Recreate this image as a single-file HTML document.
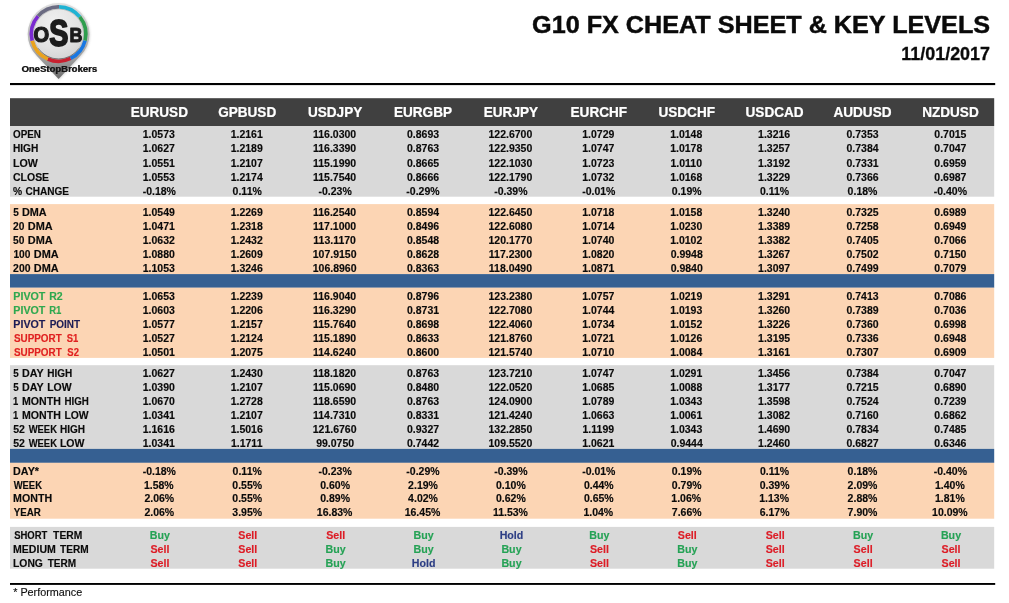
<!DOCTYPE html>
<html lang="en"><head><meta charset="utf-8"><title>G10 FX Cheat Sheet &amp; Key Levels</title>
<style>
html,body{margin:0;padding:0;background:#fff;}
body{width:1009px;height:603px;overflow:hidden;}
svg{display:block;font-family:"Liberation Sans",Arial,Helvetica,sans-serif;font-weight:bold;}
.n{font-size:11px;fill:#0a0a0a;stroke:#0a0a0a;stroke-width:0.15px;text-anchor:middle;}
.l{font-size:11px;fill:#0a0a0a;stroke:#0a0a0a;stroke-width:0.15px;}
.h{font-size:14px;fill:#fff;stroke:#fff;stroke-width:0.25px;text-anchor:middle;}
</style></head><body>
<svg width="1009" height="603" viewBox="0 0 1009 603">
<defs>
<linearGradient id="pg" x1="0" y1="0" x2="0" y2="1"><stop offset="0" stop-color="#e0e0e0"/><stop offset="0.5" stop-color="#b4b4b4"/><stop offset="0.8" stop-color="#969696"/><stop offset="1" stop-color="#6a6a6a"/></linearGradient>
<radialGradient id="dg" cx="0.42" cy="0.3" r="0.75"><stop offset="0" stop-color="#f0f0f0"/><stop offset="0.6" stop-color="#e2e2e2"/><stop offset="1" stop-color="#cfcfcf"/></radialGradient>
<filter id="sh" x="-10%" y="-30%" width="120%" height="180%"><feGaussianBlur stdDeviation="0.7"/></filter>
<filter id="sh2" x="-20%" y="-20%" width="140%" height="140%"><feGaussianBlur stdDeviation="1.2"/></filter>
</defs>
<g id="logo">
<path d="M80.45,55.85 A30.9,30.9 0 1 0 36.75,55.85 L58.6,79.0 Z" fill="#bbb" opacity="0.55" filter="url(#sh2)" transform="translate(0.6,0.8)"/>
<path d="M80.45,55.85 A30.9,30.9 0 1 0 36.75,55.85 L58.6,79.0 Z" fill="url(#pg)"/>
<circle cx="58.6" cy="34.0" r="27.7" fill="url(#dg)"/>
<path d="M59.07,6.80 A27.2,27.2 0 0 1 79.74,16.88" fill="none" stroke="#1fb3d3" stroke-width="3.7"/>
<path d="M79.74,16.88 A27.2,27.2 0 0 1 84.99,40.58" fill="none" stroke="#2f9e4e" stroke-width="3.7"/>
<path d="M84.99,40.58 A27.2,27.2 0 0 1 70.52,58.45" fill="none" stroke="#1877e2" stroke-width="3.7"/>
<path d="M70.52,58.45 A27.2,27.2 0 0 1 47.75,58.94" fill="none" stroke="#c8202f" stroke-width="3.7"/>
<path d="M47.75,58.94 A27.2,27.2 0 0 1 32.21,40.58" fill="none" stroke="#eaa21c" stroke-width="3.7"/>
<path d="M32.21,40.58 A27.2,27.2 0 0 1 38.07,16.16" fill="none" stroke="#7a2ad0" stroke-width="3.7"/>
<path d="M38.07,16.16 A27.2,27.2 0 0 1 59.07,6.80" fill="none" stroke="#6b6b82" stroke-width="3.7"/>
<circle cx="58.6" cy="34.0" r="24.95" fill="none" stroke="#9a9a9a" stroke-width="0.8" opacity="0.55"/>
<path d="M79.08,48.34 A25.00,25.00 0 0 1 38.12,48.34" fill="none" stroke="#222" stroke-width="0.9" opacity="0.5"/>
<g fill="#1c1c1c" stroke="#1c1c1c" stroke-linejoin="round">
<text transform="translate(33.6,42.1) scale(0.95,1)" font-size="21.2px" stroke-width="1.2">O</text>
<text transform="translate(49.3,45.9) scale(0.77,1)" font-size="37.2px" stroke-width="2.0">S</text>
<text transform="translate(69.5,42.1) scale(0.90,1)" font-size="19.9px" stroke-width="1.0">B</text>
</g>
<text x="21.9" y="72.45" font-size="9.3px" fill="#333" opacity="0.7" filter="url(#sh)" textLength="75.6" lengthAdjust="spacingAndGlyphs">OneStopBrokers</text>
<text x="21.4" y="71.8" font-size="9.3px" fill="#161616" stroke="#161616" stroke-width="0.12" textLength="75.6" lengthAdjust="spacingAndGlyphs">OneStopBrokers</text>
</g>
<text x="990.1" y="32.7" text-anchor="end" font-size="24px" fill="#0a0a0a" stroke="#0a0a0a" stroke-width="0.45" textLength="458" lengthAdjust="spacingAndGlyphs">G10 FX CHEAT SHEET &amp; KEY LEVELS</text>
<text transform="translate(990.0,59.5) scale(0.985,1)" text-anchor="end" font-size="18.2px" fill="#0a0a0a" stroke="#0a0a0a" stroke-width="0.3">11/01/2017</text>
<rect x="10.0" y="83" width="985.2" height="2.1" fill="#000"/>
<rect x="10.0" y="583" width="985.2" height="1.9" fill="#000"/>
<rect x="10.0" y="98.2" width="984.2" height="27.8" fill="#404040"/>
<rect x="10.0" y="126.0" width="984.2" height="70.7" fill="#d9d9d9"/>
<rect x="10.0" y="204.1" width="984.2" height="70.1" fill="#fcd5b4"/>
<rect x="10.0" y="274.1" width="984.2" height="13.7" fill="#366092"/>
<rect x="10.0" y="287.7" width="984.2" height="70.2" fill="#fcd5b4"/>
<rect x="10.0" y="365.2" width="984.2" height="83.8" fill="#d9d9d9"/>
<rect x="10.0" y="448.9" width="984.2" height="14.0" fill="#366092"/>
<rect x="10.0" y="462.8" width="984.2" height="55.9" fill="#fcd5b4"/>
<rect x="10.0" y="526.9" width="984.2" height="41.8" fill="#d9d9d9"/>
<text class="h" transform="translate(159.3,117) scale(0.97,1)">EURUSD</text>
<text class="h" transform="translate(247.2,117) scale(0.97,1)">GPBUSD</text>
<text class="h" transform="translate(335.1,117) scale(0.97,1)">USDJPY</text>
<text class="h" transform="translate(423.0,117) scale(0.97,1)">EURGBP</text>
<text class="h" transform="translate(510.9,117) scale(0.97,1)">EURJPY</text>
<text class="h" transform="translate(598.8,117) scale(0.97,1)">EURCHF</text>
<text class="h" transform="translate(686.7,117) scale(0.97,1)">USDCHF</text>
<text class="h" transform="translate(774.6,117) scale(0.97,1)">USDCAD</text>
<text class="h" transform="translate(862.5,117) scale(0.97,1)">AUDUSD</text>
<text class="h" transform="translate(950.4,117) scale(0.97,1)">NZDUSD</text>
<text class="l" y="138.0"><tspan x="13.04" textLength="27.94" lengthAdjust="spacingAndGlyphs">OPEN</tspan></text>
<text class="n" transform="translate(158.8,138.0) scale(0.955,1)">1.0573</text>
<text class="n" transform="translate(246.7,138.0) scale(0.955,1)">1.2161</text>
<text class="n" transform="translate(334.6,138.0) scale(0.955,1)">116.0300</text>
<text class="n" transform="translate(423.0,138.0) scale(0.955,1)">0.8693</text>
<text class="n" transform="translate(510.4,138.0) scale(0.955,1)">122.6700</text>
<text class="n" transform="translate(598.3,138.0) scale(0.955,1)">1.0729</text>
<text class="n" transform="translate(686.2,138.0) scale(0.955,1)">1.0148</text>
<text class="n" transform="translate(774.1,138.0) scale(0.955,1)">1.3216</text>
<text class="n" transform="translate(862.5,138.0) scale(0.955,1)">0.7353</text>
<text class="n" transform="translate(950.4,138.0) scale(0.955,1)">0.7015</text>
<text class="l" y="152.0"><tspan x="12.95" textLength="25.44" lengthAdjust="spacingAndGlyphs">HIGH</tspan></text>
<text class="n" transform="translate(158.8,152.0) scale(0.955,1)">1.0627</text>
<text class="n" transform="translate(246.7,152.0) scale(0.955,1)">1.2189</text>
<text class="n" transform="translate(334.6,152.0) scale(0.955,1)">116.3390</text>
<text class="n" transform="translate(423.0,152.0) scale(0.955,1)">0.8763</text>
<text class="n" transform="translate(510.4,152.0) scale(0.955,1)">122.9350</text>
<text class="n" transform="translate(598.3,152.0) scale(0.955,1)">1.0747</text>
<text class="n" transform="translate(686.2,152.0) scale(0.955,1)">1.0178</text>
<text class="n" transform="translate(774.1,152.0) scale(0.955,1)">1.3257</text>
<text class="n" transform="translate(862.5,152.0) scale(0.955,1)">0.7384</text>
<text class="n" transform="translate(950.4,152.0) scale(0.955,1)">0.7047</text>
<text class="l" y="166.7"><tspan x="12.92" textLength="24.86" lengthAdjust="spacingAndGlyphs">LOW</tspan></text>
<text class="n" transform="translate(158.8,166.7) scale(0.955,1)">1.0551</text>
<text class="n" transform="translate(246.7,166.7) scale(0.955,1)">1.2107</text>
<text class="n" transform="translate(334.6,166.7) scale(0.955,1)">115.1990</text>
<text class="n" transform="translate(423.0,166.7) scale(0.955,1)">0.8665</text>
<text class="n" transform="translate(510.4,166.7) scale(0.955,1)">122.1030</text>
<text class="n" transform="translate(598.3,166.7) scale(0.955,1)">1.0723</text>
<text class="n" transform="translate(686.2,166.7) scale(0.955,1)">1.0110</text>
<text class="n" transform="translate(774.1,166.7) scale(0.955,1)">1.3192</text>
<text class="n" transform="translate(862.5,166.7) scale(0.955,1)">0.7331</text>
<text class="n" transform="translate(950.4,166.7) scale(0.955,1)">0.6959</text>
<text class="l" y="180.7"><tspan x="13.02" textLength="36.10" lengthAdjust="spacingAndGlyphs">CLOSE</tspan></text>
<text class="n" transform="translate(158.8,180.7) scale(0.955,1)">1.0553</text>
<text class="n" transform="translate(246.7,180.7) scale(0.955,1)">1.2174</text>
<text class="n" transform="translate(334.6,180.7) scale(0.955,1)">115.7540</text>
<text class="n" transform="translate(423.0,180.7) scale(0.955,1)">0.8666</text>
<text class="n" transform="translate(510.4,180.7) scale(0.955,1)">122.1790</text>
<text class="n" transform="translate(598.3,180.7) scale(0.955,1)">1.0732</text>
<text class="n" transform="translate(686.2,180.7) scale(0.955,1)">1.0168</text>
<text class="n" transform="translate(774.1,180.7) scale(0.955,1)">1.3229</text>
<text class="n" transform="translate(862.5,180.7) scale(0.955,1)">0.7366</text>
<text class="n" transform="translate(950.4,180.7) scale(0.955,1)">0.6987</text>
<text class="l" y="194.7"><tspan x="13.01" textLength="9.15" lengthAdjust="spacingAndGlyphs">%</tspan> <tspan x="25.43" textLength="43.57" lengthAdjust="spacingAndGlyphs">CHANGE</tspan></text>
<text class="n" transform="translate(159.3,194.7) scale(0.955,1)">-0.18%</text>
<text class="n" transform="translate(247.2,194.7) scale(0.955,1)">0.11%</text>
<text class="n" transform="translate(335.1,194.7) scale(0.955,1)">-0.23%</text>
<text class="n" transform="translate(423.0,194.7) scale(0.955,1)">-0.29%</text>
<text class="n" transform="translate(510.9,194.7) scale(0.955,1)">-0.39%</text>
<text class="n" transform="translate(598.8,194.7) scale(0.955,1)">-0.01%</text>
<text class="n" transform="translate(686.7,194.7) scale(0.955,1)">0.19%</text>
<text class="n" transform="translate(774.6,194.7) scale(0.955,1)">0.11%</text>
<text class="n" transform="translate(862.5,194.7) scale(0.955,1)">0.18%</text>
<text class="n" transform="translate(950.4,194.7) scale(0.955,1)">-0.40%</text>
<text class="l" y="215.8"><tspan x="13.13" textLength="5.57" lengthAdjust="spacingAndGlyphs">5</tspan> <tspan x="21.91" textLength="24.73" lengthAdjust="spacingAndGlyphs">DMA</tspan></text>
<text class="n" transform="translate(158.8,215.8) scale(0.955,1)">1.0549</text>
<text class="n" transform="translate(246.7,215.8) scale(0.955,1)">1.2269</text>
<text class="n" transform="translate(334.6,215.8) scale(0.955,1)">116.2540</text>
<text class="n" transform="translate(423.0,215.8) scale(0.955,1)">0.8594</text>
<text class="n" transform="translate(510.4,215.8) scale(0.955,1)">122.6450</text>
<text class="n" transform="translate(598.3,215.8) scale(0.955,1)">1.0718</text>
<text class="n" transform="translate(686.2,215.8) scale(0.955,1)">1.0158</text>
<text class="n" transform="translate(774.1,215.8) scale(0.955,1)">1.3240</text>
<text class="n" transform="translate(862.5,215.8) scale(0.955,1)">0.7325</text>
<text class="n" transform="translate(950.4,215.8) scale(0.955,1)">0.6989</text>
<text class="l" y="229.7"><tspan x="13.12" textLength="11.37" lengthAdjust="spacingAndGlyphs">20</tspan> <tspan x="27.81" textLength="24.84" lengthAdjust="spacingAndGlyphs">DMA</tspan></text>
<text class="n" transform="translate(158.8,229.7) scale(0.955,1)">1.0471</text>
<text class="n" transform="translate(246.7,229.7) scale(0.955,1)">1.2318</text>
<text class="n" transform="translate(334.6,229.7) scale(0.955,1)">117.1000</text>
<text class="n" transform="translate(423.0,229.7) scale(0.955,1)">0.8496</text>
<text class="n" transform="translate(510.4,229.7) scale(0.955,1)">122.6080</text>
<text class="n" transform="translate(598.3,229.7) scale(0.955,1)">1.0714</text>
<text class="n" transform="translate(686.2,229.7) scale(0.955,1)">1.0230</text>
<text class="n" transform="translate(774.1,229.7) scale(0.955,1)">1.3389</text>
<text class="n" transform="translate(862.5,229.7) scale(0.955,1)">0.7258</text>
<text class="n" transform="translate(950.4,229.7) scale(0.955,1)">0.6949</text>
<text class="l" y="243.6"><tspan x="13.12" textLength="11.37" lengthAdjust="spacingAndGlyphs">50</tspan> <tspan x="27.81" textLength="24.84" lengthAdjust="spacingAndGlyphs">DMA</tspan></text>
<text class="n" transform="translate(158.8,243.6) scale(0.955,1)">1.0632</text>
<text class="n" transform="translate(246.7,243.6) scale(0.955,1)">1.2432</text>
<text class="n" transform="translate(334.6,243.6) scale(0.955,1)">113.1170</text>
<text class="n" transform="translate(423.0,243.6) scale(0.955,1)">0.8548</text>
<text class="n" transform="translate(510.4,243.6) scale(0.955,1)">120.1770</text>
<text class="n" transform="translate(598.3,243.6) scale(0.955,1)">1.0740</text>
<text class="n" transform="translate(686.2,243.6) scale(0.955,1)">1.0102</text>
<text class="n" transform="translate(774.1,243.6) scale(0.955,1)">1.3382</text>
<text class="n" transform="translate(862.5,243.6) scale(0.955,1)">0.7405</text>
<text class="n" transform="translate(950.4,243.6) scale(0.955,1)">0.7066</text>
<text class="l" y="257.6"><tspan x="13.44" textLength="17.05" lengthAdjust="spacingAndGlyphs">100</tspan> <tspan x="33.81" textLength="24.84" lengthAdjust="spacingAndGlyphs">DMA</tspan></text>
<text class="n" transform="translate(158.8,257.6) scale(0.955,1)">1.0880</text>
<text class="n" transform="translate(246.7,257.6) scale(0.955,1)">1.2609</text>
<text class="n" transform="translate(334.6,257.6) scale(0.955,1)">107.9150</text>
<text class="n" transform="translate(423.0,257.6) scale(0.955,1)">0.8628</text>
<text class="n" transform="translate(510.4,257.6) scale(0.955,1)">117.2300</text>
<text class="n" transform="translate(598.3,257.6) scale(0.955,1)">1.0820</text>
<text class="n" transform="translate(686.7,257.6) scale(0.955,1)">0.9948</text>
<text class="n" transform="translate(774.1,257.6) scale(0.955,1)">1.3267</text>
<text class="n" transform="translate(862.5,257.6) scale(0.955,1)">0.7502</text>
<text class="n" transform="translate(950.4,257.6) scale(0.955,1)">0.7150</text>
<text class="l" y="271.5"><tspan x="13.12" textLength="17.38" lengthAdjust="spacingAndGlyphs">200</tspan> <tspan x="33.81" textLength="24.84" lengthAdjust="spacingAndGlyphs">DMA</tspan></text>
<text class="n" transform="translate(158.8,271.5) scale(0.955,1)">1.1053</text>
<text class="n" transform="translate(246.7,271.5) scale(0.955,1)">1.3246</text>
<text class="n" transform="translate(334.6,271.5) scale(0.955,1)">106.8960</text>
<text class="n" transform="translate(423.0,271.5) scale(0.955,1)">0.8363</text>
<text class="n" transform="translate(510.4,271.5) scale(0.955,1)">118.0490</text>
<text class="n" transform="translate(598.3,271.5) scale(0.955,1)">1.0871</text>
<text class="n" transform="translate(686.7,271.5) scale(0.955,1)">0.9840</text>
<text class="n" transform="translate(774.1,271.5) scale(0.955,1)">1.3097</text>
<text class="n" transform="translate(862.5,271.5) scale(0.955,1)">0.7499</text>
<text class="n" transform="translate(950.4,271.5) scale(0.955,1)">0.7079</text>
<text class="l" style="fill:#2fa84f;stroke:#2fa84f" y="299.7"><tspan x="13.32" textLength="32.00" lengthAdjust="spacingAndGlyphs">PIVOT</tspan> <tspan x="49.13" textLength="13.47" lengthAdjust="spacingAndGlyphs">R2</tspan></text>
<text class="n" transform="translate(158.8,299.7) scale(0.955,1)">1.0653</text>
<text class="n" transform="translate(246.7,299.7) scale(0.955,1)">1.2239</text>
<text class="n" transform="translate(334.6,299.7) scale(0.955,1)">116.9040</text>
<text class="n" transform="translate(423.0,299.7) scale(0.955,1)">0.8796</text>
<text class="n" transform="translate(510.4,299.7) scale(0.955,1)">123.2380</text>
<text class="n" transform="translate(598.3,299.7) scale(0.955,1)">1.0757</text>
<text class="n" transform="translate(686.2,299.7) scale(0.955,1)">1.0219</text>
<text class="n" transform="translate(774.1,299.7) scale(0.955,1)">1.3291</text>
<text class="n" transform="translate(862.5,299.7) scale(0.955,1)">0.7413</text>
<text class="n" transform="translate(950.4,299.7) scale(0.955,1)">0.7086</text>
<text class="l" style="fill:#2fa84f;stroke:#2fa84f" y="313.7"><tspan x="13.32" textLength="32.00" lengthAdjust="spacingAndGlyphs">PIVOT</tspan> <tspan x="49.19" textLength="12.20" lengthAdjust="spacingAndGlyphs">R1</tspan></text>
<text class="n" transform="translate(158.8,313.7) scale(0.955,1)">1.0603</text>
<text class="n" transform="translate(246.7,313.7) scale(0.955,1)">1.2206</text>
<text class="n" transform="translate(334.6,313.7) scale(0.955,1)">116.3290</text>
<text class="n" transform="translate(423.0,313.7) scale(0.955,1)">0.8731</text>
<text class="n" transform="translate(510.4,313.7) scale(0.955,1)">122.7080</text>
<text class="n" transform="translate(598.3,313.7) scale(0.955,1)">1.0744</text>
<text class="n" transform="translate(686.2,313.7) scale(0.955,1)">1.0193</text>
<text class="n" transform="translate(774.1,313.7) scale(0.955,1)">1.3260</text>
<text class="n" transform="translate(862.5,313.7) scale(0.955,1)">0.7389</text>
<text class="n" transform="translate(950.4,313.7) scale(0.955,1)">0.7036</text>
<text class="l" style="fill:#1c1c55;stroke:#1c1c55" y="327.7"><tspan x="13.32" textLength="32.00" lengthAdjust="spacingAndGlyphs">PIVOT</tspan> <tspan x="49.67" textLength="30.45" lengthAdjust="spacingAndGlyphs">POINT</tspan></text>
<text class="n" transform="translate(158.8,327.7) scale(0.955,1)">1.0577</text>
<text class="n" transform="translate(246.7,327.7) scale(0.955,1)">1.2157</text>
<text class="n" transform="translate(334.6,327.7) scale(0.955,1)">115.7640</text>
<text class="n" transform="translate(423.0,327.7) scale(0.955,1)">0.8698</text>
<text class="n" transform="translate(510.4,327.7) scale(0.955,1)">122.4060</text>
<text class="n" transform="translate(598.3,327.7) scale(0.955,1)">1.0734</text>
<text class="n" transform="translate(686.2,327.7) scale(0.955,1)">1.0152</text>
<text class="n" transform="translate(774.1,327.7) scale(0.955,1)">1.3226</text>
<text class="n" transform="translate(862.5,327.7) scale(0.955,1)">0.7360</text>
<text class="n" transform="translate(950.4,327.7) scale(0.955,1)">0.6998</text>
<text class="l" style="fill:#e02020;stroke:#e02020" y="341.7"><tspan x="13.93" textLength="47.79" lengthAdjust="spacingAndGlyphs">SUPPORT</tspan> <tspan x="66.63" textLength="11.57" lengthAdjust="spacingAndGlyphs">S1</tspan></text>
<text class="n" transform="translate(158.8,341.7) scale(0.955,1)">1.0527</text>
<text class="n" transform="translate(246.7,341.7) scale(0.955,1)">1.2124</text>
<text class="n" transform="translate(334.6,341.7) scale(0.955,1)">115.1890</text>
<text class="n" transform="translate(423.0,341.7) scale(0.955,1)">0.8633</text>
<text class="n" transform="translate(510.4,341.7) scale(0.955,1)">121.8760</text>
<text class="n" transform="translate(598.3,341.7) scale(0.955,1)">1.0721</text>
<text class="n" transform="translate(686.2,341.7) scale(0.955,1)">1.0126</text>
<text class="n" transform="translate(774.1,341.7) scale(0.955,1)">1.3195</text>
<text class="n" transform="translate(862.5,341.7) scale(0.955,1)">0.7336</text>
<text class="n" transform="translate(950.4,341.7) scale(0.955,1)">0.6948</text>
<text class="l" style="fill:#e02020;stroke:#e02020" y="355.7"><tspan x="13.93" textLength="47.79" lengthAdjust="spacingAndGlyphs">SUPPORT</tspan> <tspan x="67.34" textLength="11.62" lengthAdjust="spacingAndGlyphs">S2</tspan></text>
<text class="n" transform="translate(158.8,355.7) scale(0.955,1)">1.0501</text>
<text class="n" transform="translate(246.7,355.7) scale(0.955,1)">1.2075</text>
<text class="n" transform="translate(334.6,355.7) scale(0.955,1)">114.6240</text>
<text class="n" transform="translate(423.0,355.7) scale(0.955,1)">0.8600</text>
<text class="n" transform="translate(510.4,355.7) scale(0.955,1)">121.5740</text>
<text class="n" transform="translate(598.3,355.7) scale(0.955,1)">1.0710</text>
<text class="n" transform="translate(686.2,355.7) scale(0.955,1)">1.0084</text>
<text class="n" transform="translate(774.1,355.7) scale(0.955,1)">1.3161</text>
<text class="n" transform="translate(862.5,355.7) scale(0.955,1)">0.7307</text>
<text class="n" transform="translate(950.4,355.7) scale(0.955,1)">0.6909</text>
<text class="l" y="376.7"><tspan x="13.13" textLength="5.46" lengthAdjust="spacingAndGlyphs">5</tspan> <tspan x="22.03" textLength="21.41" lengthAdjust="spacingAndGlyphs">DAY</tspan> <tspan x="47.16" textLength="25.02" lengthAdjust="spacingAndGlyphs">HIGH</tspan></text>
<text class="n" transform="translate(158.8,376.7) scale(0.955,1)">1.0627</text>
<text class="n" transform="translate(246.7,376.7) scale(0.955,1)">1.2430</text>
<text class="n" transform="translate(334.6,376.7) scale(0.955,1)">118.1820</text>
<text class="n" transform="translate(423.0,376.7) scale(0.955,1)">0.8763</text>
<text class="n" transform="translate(510.4,376.7) scale(0.955,1)">123.7210</text>
<text class="n" transform="translate(598.3,376.7) scale(0.955,1)">1.0747</text>
<text class="n" transform="translate(686.2,376.7) scale(0.955,1)">1.0291</text>
<text class="n" transform="translate(774.1,376.7) scale(0.955,1)">1.3456</text>
<text class="n" transform="translate(862.5,376.7) scale(0.955,1)">0.7384</text>
<text class="n" transform="translate(950.4,376.7) scale(0.955,1)">0.7047</text>
<text class="l" y="390.7"><tspan x="13.13" textLength="5.46" lengthAdjust="spacingAndGlyphs">5</tspan> <tspan x="22.03" textLength="21.41" lengthAdjust="spacingAndGlyphs">DAY</tspan> <tspan x="47.13" textLength="24.45" lengthAdjust="spacingAndGlyphs">LOW</tspan></text>
<text class="n" transform="translate(158.8,390.7) scale(0.955,1)">1.0390</text>
<text class="n" transform="translate(246.7,390.7) scale(0.955,1)">1.2107</text>
<text class="n" transform="translate(334.6,390.7) scale(0.955,1)">115.0690</text>
<text class="n" transform="translate(423.0,390.7) scale(0.955,1)">0.8480</text>
<text class="n" transform="translate(510.4,390.7) scale(0.955,1)">122.0520</text>
<text class="n" transform="translate(598.3,390.7) scale(0.955,1)">1.0685</text>
<text class="n" transform="translate(686.2,390.7) scale(0.955,1)">1.0088</text>
<text class="n" transform="translate(774.1,390.7) scale(0.955,1)">1.3177</text>
<text class="n" transform="translate(862.5,390.7) scale(0.955,1)">0.7215</text>
<text class="n" transform="translate(950.4,390.7) scale(0.955,1)">0.6890</text>
<text class="l" y="404.7"><tspan x="13.06" textLength="5.26" lengthAdjust="spacingAndGlyphs">1</tspan> <tspan x="22.03" textLength="38.79" lengthAdjust="spacingAndGlyphs">MONTH</tspan> <tspan x="64.48" textLength="24.39" lengthAdjust="spacingAndGlyphs">HIGH</tspan></text>
<text class="n" transform="translate(158.8,404.7) scale(0.955,1)">1.0670</text>
<text class="n" transform="translate(246.7,404.7) scale(0.955,1)">1.2728</text>
<text class="n" transform="translate(334.6,404.7) scale(0.955,1)">118.6590</text>
<text class="n" transform="translate(423.0,404.7) scale(0.955,1)">0.8763</text>
<text class="n" transform="translate(510.4,404.7) scale(0.955,1)">124.0900</text>
<text class="n" transform="translate(598.3,404.7) scale(0.955,1)">1.0789</text>
<text class="n" transform="translate(686.2,404.7) scale(0.955,1)">1.0343</text>
<text class="n" transform="translate(774.1,404.7) scale(0.955,1)">1.3598</text>
<text class="n" transform="translate(862.5,404.7) scale(0.955,1)">0.7524</text>
<text class="n" transform="translate(950.4,404.7) scale(0.955,1)">0.7239</text>
<text class="l" y="418.7"><tspan x="13.06" textLength="5.26" lengthAdjust="spacingAndGlyphs">1</tspan> <tspan x="22.03" textLength="38.79" lengthAdjust="spacingAndGlyphs">MONTH</tspan> <tspan x="64.44" textLength="24.24" lengthAdjust="spacingAndGlyphs">LOW</tspan></text>
<text class="n" transform="translate(158.8,418.7) scale(0.955,1)">1.0341</text>
<text class="n" transform="translate(246.7,418.7) scale(0.955,1)">1.2107</text>
<text class="n" transform="translate(334.6,418.7) scale(0.955,1)">114.7310</text>
<text class="n" transform="translate(423.0,418.7) scale(0.955,1)">0.8331</text>
<text class="n" transform="translate(510.4,418.7) scale(0.955,1)">121.4240</text>
<text class="n" transform="translate(598.3,418.7) scale(0.955,1)">1.0663</text>
<text class="n" transform="translate(686.2,418.7) scale(0.955,1)">1.0061</text>
<text class="n" transform="translate(774.1,418.7) scale(0.955,1)">1.3082</text>
<text class="n" transform="translate(862.5,418.7) scale(0.955,1)">0.7160</text>
<text class="n" transform="translate(950.4,418.7) scale(0.955,1)">0.6862</text>
<text class="l" y="432.7"><tspan x="13.21" textLength="11.69" lengthAdjust="spacingAndGlyphs">52</tspan> <tspan x="28.63" textLength="28.38" lengthAdjust="spacingAndGlyphs">WEEK</tspan> <tspan x="59.96" textLength="25.13" lengthAdjust="spacingAndGlyphs">HIGH</tspan></text>
<text class="n" transform="translate(158.8,432.7) scale(0.955,1)">1.1616</text>
<text class="n" transform="translate(246.7,432.7) scale(0.955,1)">1.5016</text>
<text class="n" transform="translate(334.6,432.7) scale(0.955,1)">121.6760</text>
<text class="n" transform="translate(423.0,432.7) scale(0.955,1)">0.9327</text>
<text class="n" transform="translate(510.4,432.7) scale(0.955,1)">132.2850</text>
<text class="n" transform="translate(598.3,432.7) scale(0.955,1)">1.1199</text>
<text class="n" transform="translate(686.2,432.7) scale(0.955,1)">1.0343</text>
<text class="n" transform="translate(774.1,432.7) scale(0.955,1)">1.4690</text>
<text class="n" transform="translate(862.5,432.7) scale(0.955,1)">0.7834</text>
<text class="n" transform="translate(950.4,432.7) scale(0.955,1)">0.7485</text>
<text class="l" y="446.8"><tspan x="13.21" textLength="11.69" lengthAdjust="spacingAndGlyphs">52</tspan> <tspan x="28.63" textLength="28.38" lengthAdjust="spacingAndGlyphs">WEEK</tspan> <tspan x="59.93" textLength="24.55" lengthAdjust="spacingAndGlyphs">LOW</tspan></text>
<text class="n" transform="translate(158.8,446.8) scale(0.955,1)">1.0341</text>
<text class="n" transform="translate(246.7,446.8) scale(0.955,1)">1.1711</text>
<text class="n" transform="translate(335.1,446.8) scale(0.955,1)">99.0750</text>
<text class="n" transform="translate(423.0,446.8) scale(0.955,1)">0.7442</text>
<text class="n" transform="translate(510.4,446.8) scale(0.955,1)">109.5520</text>
<text class="n" transform="translate(598.3,446.8) scale(0.955,1)">1.0621</text>
<text class="n" transform="translate(686.7,446.8) scale(0.955,1)">0.9444</text>
<text class="n" transform="translate(774.1,446.8) scale(0.955,1)">1.2460</text>
<text class="n" transform="translate(862.5,446.8) scale(0.955,1)">0.6827</text>
<text class="n" transform="translate(950.4,446.8) scale(0.955,1)">0.6346</text>
<text class="l" y="474.7"><tspan x="13.12" textLength="25.86" lengthAdjust="spacingAndGlyphs">DAY*</tspan></text>
<text class="n" transform="translate(159.3,474.7) scale(0.955,1)">-0.18%</text>
<text class="n" transform="translate(247.2,474.7) scale(0.955,1)">0.11%</text>
<text class="n" transform="translate(335.1,474.7) scale(0.955,1)">-0.23%</text>
<text class="n" transform="translate(423.0,474.7) scale(0.955,1)">-0.29%</text>
<text class="n" transform="translate(510.9,474.7) scale(0.955,1)">-0.39%</text>
<text class="n" transform="translate(598.8,474.7) scale(0.955,1)">-0.01%</text>
<text class="n" transform="translate(686.7,474.7) scale(0.955,1)">0.19%</text>
<text class="n" transform="translate(774.6,474.7) scale(0.955,1)">0.11%</text>
<text class="n" transform="translate(862.5,474.7) scale(0.955,1)">0.18%</text>
<text class="n" transform="translate(950.4,474.7) scale(0.955,1)">-0.40%</text>
<text class="l" y="488.5"><tspan x="13.63" textLength="28.38" lengthAdjust="spacingAndGlyphs">WEEK</tspan></text>
<text class="n" transform="translate(158.8,488.5) scale(0.955,1)">1.58%</text>
<text class="n" transform="translate(247.2,488.5) scale(0.955,1)">0.55%</text>
<text class="n" transform="translate(335.1,488.5) scale(0.955,1)">0.60%</text>
<text class="n" transform="translate(423.0,488.5) scale(0.955,1)">2.19%</text>
<text class="n" transform="translate(510.9,488.5) scale(0.955,1)">0.10%</text>
<text class="n" transform="translate(598.8,488.5) scale(0.955,1)">0.44%</text>
<text class="n" transform="translate(686.7,488.5) scale(0.955,1)">0.79%</text>
<text class="n" transform="translate(774.6,488.5) scale(0.955,1)">0.39%</text>
<text class="n" transform="translate(862.5,488.5) scale(0.955,1)">2.09%</text>
<text class="n" transform="translate(949.9,488.5) scale(0.955,1)">1.40%</text>
<text class="l" y="502.3"><tspan x="13.12" textLength="39.00" lengthAdjust="spacingAndGlyphs">MONTH</tspan></text>
<text class="n" transform="translate(159.3,502.3) scale(0.955,1)">2.06%</text>
<text class="n" transform="translate(247.2,502.3) scale(0.955,1)">0.55%</text>
<text class="n" transform="translate(335.1,502.3) scale(0.955,1)">0.89%</text>
<text class="n" transform="translate(423.0,502.3) scale(0.955,1)">4.02%</text>
<text class="n" transform="translate(510.9,502.3) scale(0.955,1)">0.62%</text>
<text class="n" transform="translate(598.8,502.3) scale(0.955,1)">0.65%</text>
<text class="n" transform="translate(686.2,502.3) scale(0.955,1)">1.06%</text>
<text class="n" transform="translate(774.1,502.3) scale(0.955,1)">1.13%</text>
<text class="n" transform="translate(862.5,502.3) scale(0.955,1)">2.88%</text>
<text class="n" transform="translate(949.9,502.3) scale(0.955,1)">1.81%</text>
<text class="l" y="516.3"><tspan x="13.71" textLength="27.12" lengthAdjust="spacingAndGlyphs">YEAR</tspan></text>
<text class="n" transform="translate(159.3,516.3) scale(0.955,1)">2.06%</text>
<text class="n" transform="translate(247.2,516.3) scale(0.955,1)">3.95%</text>
<text class="n" transform="translate(334.6,516.3) scale(0.955,1)">16.83%</text>
<text class="n" transform="translate(422.5,516.3) scale(0.955,1)">16.45%</text>
<text class="n" transform="translate(510.4,516.3) scale(0.955,1)">11.53%</text>
<text class="n" transform="translate(598.3,516.3) scale(0.955,1)">1.04%</text>
<text class="n" transform="translate(686.7,516.3) scale(0.955,1)">7.66%</text>
<text class="n" transform="translate(774.6,516.3) scale(0.955,1)">6.17%</text>
<text class="n" transform="translate(862.5,516.3) scale(0.955,1)">7.90%</text>
<text class="n" transform="translate(949.9,516.3) scale(0.955,1)">10.09%</text>
<text class="l" y="538.7"><tspan x="14.14" textLength="33.18" lengthAdjust="spacingAndGlyphs">SHORT</tspan> <tspan x="53.11" textLength="29.11" lengthAdjust="spacingAndGlyphs">TERM</tspan></text>
<text class="n" style="fill:#25a255;stroke:#25a255" transform="translate(159.9,538.7) scale(0.97,1)">Buy</text>
<text class="n" style="fill:#dd1c26;stroke:#dd1c26" transform="translate(247.8,538.7) scale(0.97,1)">Sell</text>
<text class="n" style="fill:#dd1c26;stroke:#dd1c26" transform="translate(335.7,538.7) scale(0.97,1)">Sell</text>
<text class="n" style="fill:#25a255;stroke:#25a255" transform="translate(423.6,538.7) scale(0.97,1)">Buy</text>
<text class="n" style="fill:#2c3d84;stroke:#2c3d84" transform="translate(511.5,538.7) scale(0.97,1)">Hold</text>
<text class="n" style="fill:#25a255;stroke:#25a255" transform="translate(599.4,538.7) scale(0.97,1)">Buy</text>
<text class="n" style="fill:#dd1c26;stroke:#dd1c26" transform="translate(687.3,538.7) scale(0.97,1)">Sell</text>
<text class="n" style="fill:#dd1c26;stroke:#dd1c26" transform="translate(775.2,538.7) scale(0.97,1)">Sell</text>
<text class="n" style="fill:#25a255;stroke:#25a255" transform="translate(863.1,538.7) scale(0.97,1)">Buy</text>
<text class="n" style="fill:#25a255;stroke:#25a255" transform="translate(951.0,538.7) scale(0.97,1)">Buy</text>
<text class="l" y="552.7"><tspan x="13.03" textLength="42.81" lengthAdjust="spacingAndGlyphs">MEDIUM</tspan> <tspan x="60.11" textLength="28.60" lengthAdjust="spacingAndGlyphs">TERM</tspan></text>
<text class="n" style="fill:#dd1c26;stroke:#dd1c26" transform="translate(159.9,552.7) scale(0.97,1)">Sell</text>
<text class="n" style="fill:#dd1c26;stroke:#dd1c26" transform="translate(247.8,552.7) scale(0.97,1)">Sell</text>
<text class="n" style="fill:#25a255;stroke:#25a255" transform="translate(335.7,552.7) scale(0.97,1)">Buy</text>
<text class="n" style="fill:#25a255;stroke:#25a255" transform="translate(423.6,552.7) scale(0.97,1)">Buy</text>
<text class="n" style="fill:#25a255;stroke:#25a255" transform="translate(511.5,552.7) scale(0.97,1)">Buy</text>
<text class="n" style="fill:#dd1c26;stroke:#dd1c26" transform="translate(599.4,552.7) scale(0.97,1)">Sell</text>
<text class="n" style="fill:#25a255;stroke:#25a255" transform="translate(687.3,552.7) scale(0.97,1)">Buy</text>
<text class="n" style="fill:#dd1c26;stroke:#dd1c26" transform="translate(775.2,552.7) scale(0.97,1)">Sell</text>
<text class="n" style="fill:#dd1c26;stroke:#dd1c26" transform="translate(863.1,552.7) scale(0.97,1)">Sell</text>
<text class="n" style="fill:#dd1c26;stroke:#dd1c26" transform="translate(951.0,552.7) scale(0.97,1)">Sell</text>
<text class="l" y="566.8"><tspan x="13.04" textLength="29.88" lengthAdjust="spacingAndGlyphs">LONG</tspan> <tspan x="47.71" textLength="28.50" lengthAdjust="spacingAndGlyphs">TERM</tspan></text>
<text class="n" style="fill:#dd1c26;stroke:#dd1c26" transform="translate(159.9,566.8) scale(0.97,1)">Sell</text>
<text class="n" style="fill:#dd1c26;stroke:#dd1c26" transform="translate(247.8,566.8) scale(0.97,1)">Sell</text>
<text class="n" style="fill:#25a255;stroke:#25a255" transform="translate(335.7,566.8) scale(0.97,1)">Buy</text>
<text class="n" style="fill:#2c3d84;stroke:#2c3d84" transform="translate(423.6,566.8) scale(0.97,1)">Hold</text>
<text class="n" style="fill:#25a255;stroke:#25a255" transform="translate(511.5,566.8) scale(0.97,1)">Buy</text>
<text class="n" style="fill:#dd1c26;stroke:#dd1c26" transform="translate(599.4,566.8) scale(0.97,1)">Sell</text>
<text class="n" style="fill:#25a255;stroke:#25a255" transform="translate(687.3,566.8) scale(0.97,1)">Buy</text>
<text class="n" style="fill:#dd1c26;stroke:#dd1c26" transform="translate(775.2,566.8) scale(0.97,1)">Sell</text>
<text class="n" style="fill:#dd1c26;stroke:#dd1c26" transform="translate(863.1,566.8) scale(0.97,1)">Sell</text>
<text class="n" style="fill:#dd1c26;stroke:#dd1c26" transform="translate(951.0,566.8) scale(0.97,1)">Sell</text>
<text x="13.2" y="595.5" font-size="10.8px" font-weight="normal" fill="#111" stroke="#111" stroke-width="0.15">* Performance</text>
</svg>
</body></html>
